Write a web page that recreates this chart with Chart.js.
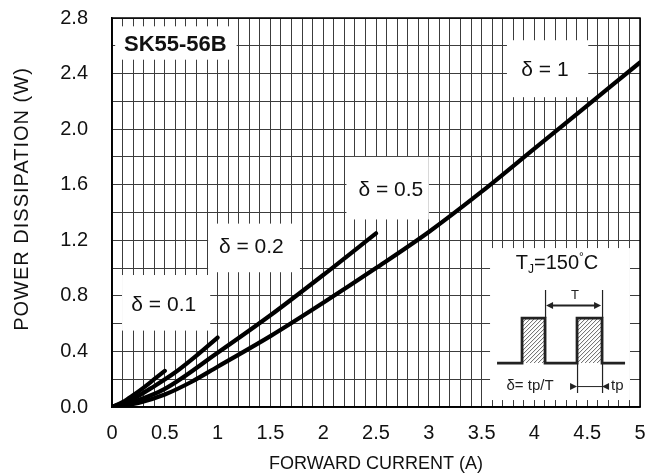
<!DOCTYPE html>
<html>
<head>
<meta charset="utf-8">
<script src="https://cdn.jsdelivr.net/npm/chart.js@4.4.0/dist/chart.umd.min.js"></script>
<style>
  html, body { margin: 0; padding: 0; background: #fff; }
  #wrap { width: 656px; height: 475px; }
</style>
</head>
<body>
<div id="wrap"><canvas id="chart" width="656" height="475"></canvas></div>
<script>
/* ── 数据 ── */
const dutyLabels = ['δ = 0.1', 'δ = 0.2', 'δ = 0.5', 'δ = 1'];

const current01 = [0, 0.1, 0.2, 0.3, 0.4, 0.5];
const power01   = [0, 0.035, 0.085, 0.14, 0.2, 0.26];

const current02 = [0, 0.2, 0.4, 0.6, 0.8, 1.0];
const power02   = [0, 0.06, 0.15, 0.25, 0.37, 0.5];

const current05 = [0, 0.25, 0.5, 1.0, 1.5, 2.0, 2.5];
const power05   = [0, 0.05, 0.13, 0.39, 0.66, 0.95, 1.25];

const current10 = [0, 0.25, 0.5, 0.75, 1.0, 1.5, 2.0, 2.5, 3.0, 3.5, 4.0, 4.5, 5.0];
const power10   = [0, 0.03, 0.09, 0.18, 0.29, 0.51, 0.75, 1.0, 1.26, 1.55, 1.86, 2.17, 2.48];

const xTitle = 'FORWARD CURRENT (A)';
const yTitle = 'POWER DISSIPATION (W)';
const partName = 'SK55-56B';

const FONT = '"Liberation Sans", Arial, sans-serif';

const toPoints = (xs, ys) => xs.map((x, i) => ({ x, y: ys[i] }));

const curve = (xs, ys) => ({
    data: toPoints(xs, ys),
    borderColor: '#000',
    borderWidth: 4.2,
    borderCapStyle: 'round',
    pointRadius: 0,
    cubicInterpolationMode: 'monotone',
    fill: false,
});

// 白底标注框（数据坐标）
const labelBoxes = [
    { text: partName,      bold: true, x0: 0.03, x1: 1.18, y0: 2.50, y1: 2.74, tx: 0.60, ty: 2.606 },
    { text: dutyLabels[0], x0: 0.095, x1: 0.93, y0: 0.55, y1: 0.95, tx: 0.49, ty: 0.734 },
    { text: dutyLabels[1], x0: 0.91, x1: 1.78, y0: 0.97, y1: 1.32, tx: 1.32, ty: 1.15 },
    { text: dutyLabels[2], x0: 2.22, x1: 3.00, y0: 1.35, y1: 1.80, tx: 2.64, ty: 1.562 },
    { text: dutyLabels[3], x0: 3.74, x1: 4.51, y0: 2.23, y1: 2.64, tx: 4.10, ty: 2.426 },
];
const insetBox = { x0: 3.58, x1: 4.905, y0: 0.05, y1: 1.144 };

function drawArrowHead(ctx, x, y, dir) {
    ctx.beginPath();
    ctx.moveTo(x, y);
    ctx.lineTo(x - dir * 7, y - 3.5);
    ctx.lineTo(x - dir * 7, y + 3.5);
    ctx.closePath();
    ctx.fill();
}

function drawInset(ctx, bx, by) {
    // 标题 TJ=150°C
    ctx.fillStyle = '#111';
    ctx.textBaseline = 'alphabetic';
    ctx.textAlign = 'left';
    const big = '20px ' + FONT, small = '12px ' + FONT;
    ctx.font = big;
    const wT = ctx.measureText('T').width, w150 = ctx.measureText('=150').width, wC = ctx.measureText('C').width;
    ctx.font = small;
    const wJ = ctx.measureText('J').width, wDeg = ctx.measureText('°').width;
    const total = wT + wJ + w150 + wDeg + wC;
    let cx = bx + 67 - total / 2;
    const base = by + 21;
    ctx.font = big; ctx.fillText('T', cx, base); cx += wT;
    ctx.font = small; ctx.fillText('J', cx, base + 4); cx += wJ;
    ctx.font = big; ctx.fillText('=150', cx, base); cx += w150;
    ctx.font = small; ctx.fillText('°', cx, base - 8); cx += wDeg;
    ctx.font = big; ctx.fillText('C', cx, base);

    // 斜线阴影
    const pulses = [[32, 55], [87, 112]];
    ctx.save();
    ctx.strokeStyle = '#666';
    ctx.lineWidth = 1;
    pulses.forEach(([a, b]) => {
        ctx.save();
        ctx.beginPath();
        ctx.rect(bx + a, by + 70, b - a, 45);
        ctx.clip();
        ctx.beginPath();
        for (let k = -60; k < 80; k += 4) {
            ctx.moveTo(bx + a + k, by + 115);
            ctx.lineTo(bx + a + k + 45, by + 70);
        }
        ctx.stroke();
        ctx.restore();
    });
    ctx.restore();

    // 脉冲波形
    ctx.strokeStyle = '#222';
    ctx.lineWidth = 2.8;
    ctx.lineJoin = 'miter';
    ctx.beginPath();
    ctx.moveTo(bx + 7, by + 115);
    ctx.lineTo(bx + 32, by + 115);
    ctx.lineTo(bx + 32, by + 70);
    ctx.lineTo(bx + 55, by + 70);
    ctx.lineTo(bx + 55, by + 115);
    ctx.lineTo(bx + 87, by + 115);
    ctx.lineTo(bx + 87, by + 70);
    ctx.lineTo(bx + 112, by + 70);
    ctx.lineTo(bx + 112, by + 115);
    ctx.lineTo(bx + 135, by + 115);
    ctx.stroke();

    // 辅助竖线
    ctx.lineWidth = 1.2;
    ctx.beginPath();
    ctx.moveTo(bx + 55.5, by + 42); ctx.lineTo(bx + 55.5, by + 70);
    ctx.moveTo(bx + 112.5, by + 42); ctx.lineTo(bx + 112.5, by + 70);
    ctx.moveTo(bx + 87.5, by + 115); ctx.lineTo(bx + 87.5, by + 145);
    ctx.moveTo(bx + 112.5, by + 115); ctx.lineTo(bx + 112.5, by + 145);
    ctx.stroke();

    // T 双向箭头
    ctx.fillStyle = '#222';
    ctx.lineWidth = 2;
    ctx.beginPath();
    ctx.moveTo(bx + 62, by + 57.5); ctx.lineTo(bx + 105, by + 57.5);
    ctx.stroke();
    drawArrowHead(ctx, bx + 56, by + 57.5, -1);
    drawArrowHead(ctx, bx + 111, by + 57.5, 1);

    // tp 箭头
    ctx.lineWidth = 1;
    ctx.beginPath();
    ctx.moveTo(bx + 87, by + 138.5); ctx.lineTo(bx + 112, by + 138.5);
    ctx.stroke();
    drawArrowHead(ctx, bx + 87, by + 138.5, 1);
    drawArrowHead(ctx, bx + 112, by + 138.5, -1);

    ctx.fillStyle = '#222';
    ctx.textBaseline = 'middle';
    ctx.textAlign = 'center';
    ctx.font = '13px ' + FONT;
    ctx.fillText('T', bx + 85, by + 47);
    ctx.font = '15px ' + FONT;
    ctx.fillText('δ= tp/T', bx + 40, by + 138);
    ctx.textAlign = 'left';
    ctx.fillText('tp', bx + 121, by + 138);
}

const annotatePlugin = {
    id: 'annotate',
    beforeDatasetsDraw(chart) {
        const { ctx, scales: { x, y } } = chart;
        ctx.save();
        labelBoxes.forEach(b => {
            const l = x.getPixelForValue(b.x0), r = x.getPixelForValue(b.x1);
            const t = y.getPixelForValue(b.y1), btm = y.getPixelForValue(b.y0);
            ctx.fillStyle = '#fff';
            ctx.fillRect(l, t, r - l, btm - t);
            ctx.fillStyle = '#111';
            ctx.font = (b.bold ? 'bold 22px ' : '21px ') + FONT;
            ctx.textAlign = 'center';
            ctx.textBaseline = 'middle';
            ctx.fillText(b.text, x.getPixelForValue(b.tx), y.getPixelForValue(b.ty));
        });

        const il = x.getPixelForValue(insetBox.x0), ir = x.getPixelForValue(insetBox.x1);
        const it = y.getPixelForValue(insetBox.y1), ib = y.getPixelForValue(insetBox.y0);
        ctx.fillStyle = '#fff';
        ctx.fillRect(il, it, ir - il, ib - it);
        drawInset(ctx, il, it);
        ctx.restore();
    },
    afterDatasetsDraw(chart) {
        const { ctx, chartArea: a } = chart;
        ctx.save();
        ctx.strokeStyle = '#000';
        ctx.lineWidth = 1.5;
        ctx.strokeRect(a.left, a.top, a.right - a.left, a.bottom - a.top);
        ctx.restore();
    },
    afterDraw(chart) {
        // 纵轴标题：原图字形较宽，且略偏上
        const { ctx, chartArea: a } = chart;
        ctx.save();
        ctx.translate(22, (a.top + a.bottom) / 2 - 13);
        ctx.rotate(-Math.PI / 2);
        ctx.font = '20px ' + FONT;
        if ('letterSpacing' in ctx) ctx.letterSpacing = '1px';
        ctx.fillStyle = '#111';
        ctx.textAlign = 'center';
        ctx.textBaseline = 'middle';
        ctx.fillText(yTitle, 0.5, 0);
        ctx.restore();
    },
};

new Chart(document.getElementById('chart'), {
    type: 'line',
    data: {
        datasets: [
            curve(current01, power01),
            curve(current02, power02),
            curve(current05, power05),
            curve(current10, power10),
        ],
    },
    options: {
        responsive: false,
        animation: false,
        layout: { padding: { left: 0, top: 18, right: 16, bottom: 0 } },
        plugins: {
            legend: { display: false },
            tooltip: { enabled: false },
        },
        scales: {
            x: {
                type: 'linear',
                min: 0,
                max: 5,
                afterFit: s => { s.height = 68; },
                grid: { color: '#3c3c3c', lineWidth: 1, drawTicks: true, tickLength: 14, tickColor: 'rgba(0,0,0,0)' },
                border: { color: '#000', width: 1.5 },
                ticks: {
                    stepSize: 0.1,
                    autoSkip: false,
                    maxRotation: 0,
                    padding: 0,
                    color: '#111',
                    font: { family: FONT, size: 20 },
                    callback: v => Math.abs(v * 2 - Math.round(v * 2)) < 1e-6 ? String(Number(v.toFixed(1))) : '',
                },
                title: {
                    display: true,
                    text: xTitle,
                    color: '#111',
                    font: { family: FONT, size: 18 },
                    padding: { top: 0, bottom: 0 },
                },
            },
            y: {
                min: 0,
                max: 2.8,
                afterFit: s => { s.width = 112; },
                grid: { color: '#3c3c3c', lineWidth: 1, drawTicks: true, tickLength: 24, tickColor: 'rgba(0,0,0,0)' },
                border: { color: '#000', width: 1.5 },
                ticks: {
                    stepSize: 0.2,
                    autoSkip: false,
                    padding: 0,
                    color: '#111',
                    font: { family: FONT, size: 20 },
                    callback: v => Math.abs(v / 0.4 - Math.round(v / 0.4)) < 1e-6 ? v.toFixed(1) : '',
                },
                title: { display: false },
            },
        },
    },
    plugins: [annotatePlugin],
});
</script>
</body>
</html>
